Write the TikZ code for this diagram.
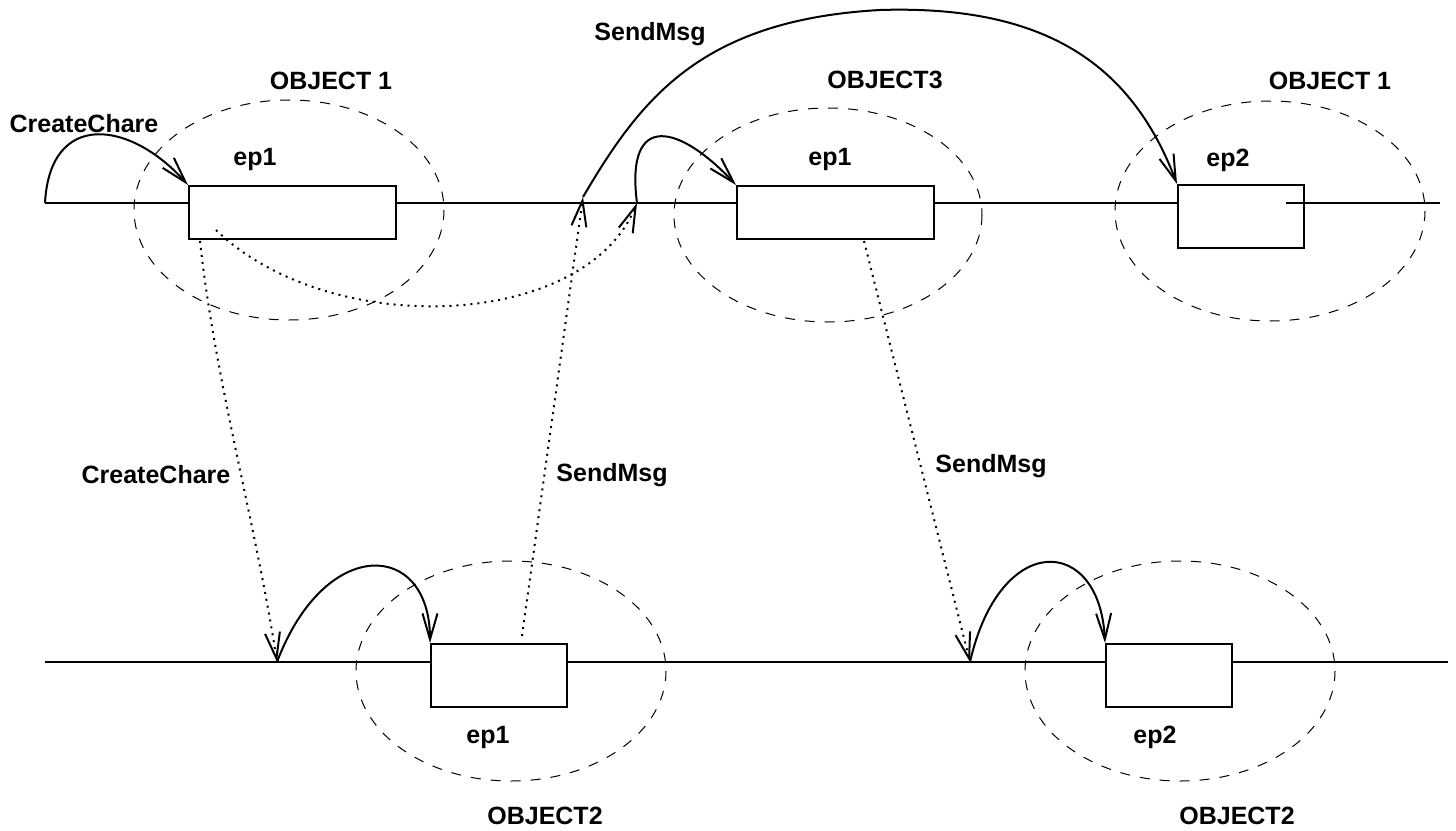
\documentclass[tikz,border=0pt]{standalone}
\usepackage{fontspec}
\setmainfont{Liberation Sans}
\usetikzlibrary{arrows.meta}
\begin{document}
\begin{tikzpicture}[x=0.5pt,y=-0.5pt,
  lbl/.style={font=\fontsize{12.5}{15}\selectfont\bfseries, inner sep=0pt},
  epbox/.style={draw, fill=white, line width=1pt, inner sep=0pt},
  timeline/.style={line width=0.7pt},
  objring/.style={line width=0.5pt, dash pattern=on 5pt off 5pt},
  call/.style={line width=1pt, -{Straight Barb[length=13pt,width=7.5pt]}},
  msg/.style={line width=1pt, dash pattern=on 1pt off 2.5pt, -{Straight Barb[length=13pt,width=7.5pt]}},
]
\useasboundingbox (0,0) rectangle (1456,830);

% object boundaries
\draw[objring] (289,210) ellipse [x radius=155, y radius=110];
\draw[objring] (828,215) ellipse [x radius=154, y radius=107];
\draw[objring] (1270,211) ellipse [x radius=155, y radius=110];
\draw[objring] (511,671) ellipse [x radius=155, y radius=110];
\draw[objring] (1180,671) ellipse [x radius=155, y radius=110];

% processor time lines
\coordinate (t0) at (45,203);
\coordinate (t1) at (1178,203);
\coordinate (u0) at (45,662);
\coordinate (u1) at (1448,662);
\draw[timeline] (t0) -- (t1);
\draw[timeline] (u0) -- (u1);

% entry point executions
\node[epbox, minimum width=103.5pt, minimum height=26.5pt] (b1) at (292.5,212.5) {};
\node[epbox, minimum width=98.5pt, minimum height=26.5pt] (b2) at (835.5,212.5) {};
\node[epbox, minimum width=63pt, minimum height=31.5pt] (b3) at (1241,216.5) {};
\node[epbox, minimum width=68pt, minimum height=31.5pt] (bb1) at (499,675.5) {};
\node[epbox, minimum width=63pt, minimum height=31.5pt] (bb2) at (1169,675.5) {};

\coordinate (t2) at (1286,203);
\coordinate (t3) at (1440,203);
\draw[timeline] (t2) -- (t3);

% message points on the time lines
\coordinate (m1) at (583,197);
\coordinate (m2) at (637,203);
\coordinate (c1) at (277,662);
\coordinate (c2) at (970,662);
\coordinate (s1) at (200,241);
\coordinate (s2) at (216,230);
\coordinate (s3) at (522,636);
\coordinate (s4) at (864,241);
\coordinate (apex) at (880,10);

% local invocations
\draw[call] (t0) .. controls (50,110) and (130,120) .. (b1.north west);
\draw[call] (m2) .. controls (625,110) and (680,125) .. (b2.north west);
\draw[call] (m1) .. controls (640,100) and (700,20) .. (apex)
                 .. controls (1040,5) and (1130,60) .. (b3.north west);
\draw[call] (c1) .. controls (325,535) and (430,540) .. (bb1.north west);
\draw[call] (c2) .. controls (1000,530) and (1100,535) .. (bb2.north west);

% remote messages
\draw[msg] (s1) .. controls (215,380) and (255,520) .. (c1);
\draw[msg] (s2) .. controls (330,340) and (585,330) .. (m2);
\draw[msg] (s3) -- (m1);
\draw[msg] (s4) -- (c2);

% labels
\node[lbl] (l1) at (331,81) {OBJECT 1};
\node[lbl] (l2) at (885,80) {OBJECT3};
\node[lbl] (l3) at (1330,81) {OBJECT 1};
\node[lbl] (l4) at (650,34) {SendMsg};
\node[lbl] (l5) at (84,124) {CreateChare};
\node[lbl] (l6) at (255,159) {ep1};
\node[lbl] (l7) at (830,159) {ep1};
\node[lbl] (l8) at (1228,160) {ep2};
\node[lbl] (l9) at (156,475) {CreateChare};
\node[lbl] (l10) at (612,475) {SendMsg};
\node[lbl] (l11) at (991,466) {SendMsg};
\node[lbl] (l12) at (488,737) {ep1};
\node[lbl] (l13) at (1155,737) {ep2};
\node[lbl] (l14) at (545,816) {OBJECT2};
\node[lbl] (l15) at (1237,816) {OBJECT2};
\end{tikzpicture}
\end{document}
